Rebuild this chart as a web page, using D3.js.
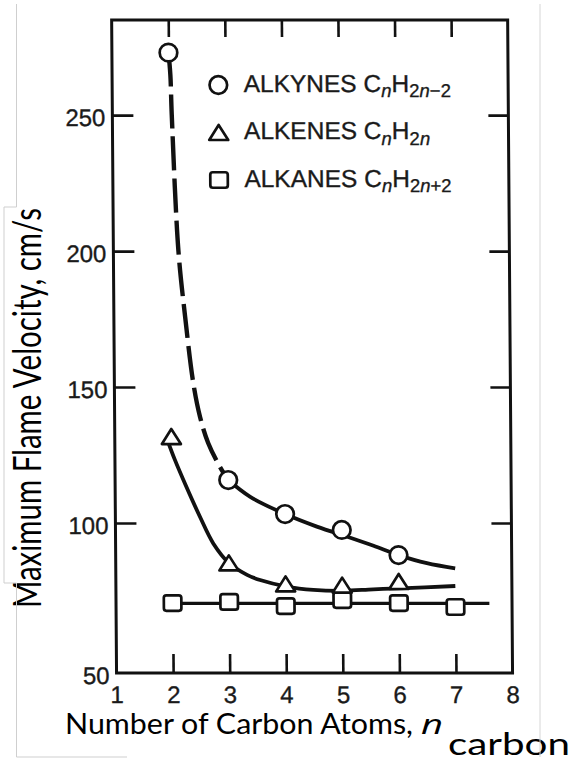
<!DOCTYPE html>
<html>
<head>
<meta charset="utf-8">
<script src="https://cdn.jsdelivr.net/npm/d3@7"></script>
<style>
  body { margin: 0; background: #fff; }
  svg { display: block; }
</style>
</head>
<body>
<svg id="chart" width="575" height="760"></svg>
<script>
// ---- data ----
const xTickMarks = [2, 3, 4, 5, 6, 7];
const xTickLabels = [1, 2, 3, 4, 5, 6, 7, 8];
const yTickMarks = [100, 150, 200, 250];
const yTickLabels = [50, 100, 150, 200, 250];

// measured maximum flame velocities (cm/s) against carbon number
const alkyneN = [2, 3, 4, 5, 6];
const alkyneV = [273.0, 115.8, 103.3, 97.7, 89.3];
const alkeneN = [2, 3, 4, 5, 6];
const alkeneV = [131.8, 86.7, 79.7, 79.3, 80.5];
const alkaneN = [2, 3, 4, 5, 6, 7];
const alkaneV = [73.3, 73.7, 72.3, 74.3, 73.3, 72.0];

// hand-drawn trend curves [n, velocity]
const alkyneTrendDashed = [[2, 273.0], [2.03, 265], [2.05, 250], [2.15, 200], [2.26, 175.8],
  [2.395, 151.5], [2.51, 139], [2.65, 129.4], [2.856, 120.6], [3, 115.8]];
const alkyneTrendSolid = [[3, 115.8], [3.38, 109.7], [4, 103.3], [4.56, 98.8], [5.15, 95.1],
  [5.56, 92.4], [6, 89.3], [6.5, 86.6], [7, 84.9]];
const alkeneTrend = [[1.93, 130.5], [2.06, 123.2], [2.253, 113.6], [2.495, 102.3], [2.727, 93.2],
  [3, 86.7], [3.32, 82.7], [3.55, 81], [4.02, 78.8], [4.49, 77.7], [5.02, 77.4], [5.55, 77.9],
  [6.02, 78.2], [7, 79]];
const alkaneTrend = [[2, 73.2], [7.6, 73.2]];

const legendNames = ["ALKYNES", "ALKENES", "ALKANES"];
const legendSubs = ["\u22122", "", "+2"];
const legendShapes = ["circle", "triangle", "square"];

// ---- layout ----
const svg = d3.select("#chart");
const plotTop = 20, plotBottom = 673;
const x = d3.scaleLinear().domain([1, 8]).range([111.5, 507.5]);
// lower decade of the printed axis is drawn slightly taller
const y = d3.scaleLinear().domain([50, 100, 285]).range([plotBottom, 523, plotTop]);

const font = "'Liberation Sans', Arial, Helvetica, sans-serif";
const ink = "#111";

// the printed figure is very slightly sheared
const plot = svg.append("g").attr("transform", "skewX(0.43)");

// frame
plot.append("rect")
  .attr("x", x(1)).attr("y", plotTop)
  .attr("width", x(8) - x(1)).attr("height", plotBottom - plotTop)
  .attr("fill", "none").attr("stroke", ink).attr("stroke-width", 3);

function styleTicks(g) {
  g.select(".domain").remove();
  g.selectAll("line").attr("stroke", ink).attr("stroke-width", 2.6);
}

// inward tick marks on all four sides
plot.append("g").attr("transform", `translate(0,${plotBottom})`)
  .call(d3.axisBottom(x).tickValues(xTickMarks).tickSize(-19).tickFormat(""))
  .call(styleTicks);
plot.append("g").attr("transform", `translate(0,${plotTop})`)
  .call(d3.axisTop(x).tickValues(xTickMarks).tickSize(-17).tickFormat(""))
  .call(styleTicks);
plot.append("g").attr("transform", `translate(${x(1)},0)`)
  .call(d3.axisLeft(y).tickValues(yTickMarks).tickSize(-21).tickFormat(""))
  .call(styleTicks);
plot.append("g").attr("transform", `translate(${x(8)},0)`)
  .call(d3.axisRight(y).tickValues(yTickMarks).tickSize(-20).tickFormat(""))
  .call(styleTicks);

// tick labels
function styleLabels(sel) {
  sel.attr("font-family", font).attr("font-size", 24).attr("fill", "#1a1a1a")
    .attr("stroke", "#1a1a1a").attr("stroke-width", 0.35);
}
const xl = plot.append("g").attr("transform", `translate(0,${plotBottom})`)
  .call(d3.axisBottom(x).tickValues(xTickLabels).tickSize(0).tickFormat(d3.format("d")));
xl.select(".domain").remove();
xl.selectAll("text").attr("y", 30).attr("dy", 0).call(styleLabels);

const yl = plot.append("g").attr("transform", `translate(${x(1)},0)`)
  .call(d3.axisLeft(y).tickValues(yTickLabels).tickSize(0).tickFormat(d3.format("d")));
yl.select(".domain").remove();
yl.selectAll("text").attr("x", -7).attr("dy", 10).call(styleLabels);

// trend curves
const line = d3.line().x(d => x(d[0])).y(d => y(d[1])).curve(d3.curveCatmullRom.alpha(0.5));
plot.append("path").datum(alkyneTrendDashed).attr("d", line)
  .attr("fill", "none").attr("stroke", ink).attr("stroke-width", 4.4)
  .attr("stroke-dasharray", "34,8");
plot.append("path").datum(alkyneTrendSolid).attr("d", line)
  .attr("fill", "none").attr("stroke", ink).attr("stroke-width", 3.8);
plot.append("path").datum(alkeneTrend).attr("d", line)
  .attr("fill", "none").attr("stroke", ink).attr("stroke-width", 3.8);
plot.append("path").datum(alkaneTrend).attr("d", line)
  .attr("fill", "none").attr("stroke", ink).attr("stroke-width", 3.2);

// marker shapes
function drawMarker(g, shape, cx, cy) {
  if (shape === "circle") {
    g.append("circle").attr("cx", cx).attr("cy", cy).attr("r", 8.8)
      .attr("fill", "#fff").attr("stroke", ink).attr("stroke-width", 2.7);
  } else if (shape === "triangle") {
    const w = 19, h = 15;
    g.append("path")
      .attr("d", `M${cx},${cy - h / 2}L${cx + w / 2},${cy + h / 2}L${cx - w / 2},${cy + h / 2}Z`)
      .attr("fill", "#fff").attr("stroke", ink).attr("stroke-width", 2.7)
      .attr("stroke-linejoin", "round");
  } else {
    const w = 17.5, h = 15.5;
    g.append("rect").attr("x", cx - w / 2).attr("y", cy - h / 2)
      .attr("width", w).attr("height", h).attr("rx", 2.5)
      .attr("fill", "#fff").attr("stroke", ink).attr("stroke-width", 2.7);
  }
}

const markers = plot.append("g");
alkaneN.forEach((n, i) => drawMarker(markers, "square", x(n), y(alkaneV[i])));
alkeneN.forEach((n, i) => drawMarker(markers, "triangle", x(n), y(alkeneV[i])));
alkyneN.forEach((n, i) => drawMarker(markers, "circle", x(n), y(alkyneV[i])));

// legend
const legend = plot.append("g");
legendNames.forEach((name, i) => {
  const by = 92 + i * 47.5;
  drawMarker(legend, legendShapes[i], 217.7, by - 7);
  const t = legend.append("text").attr("x", 243).attr("y", by)
    .attr("font-family", font).attr("font-size", 24.5).attr("fill", "#1a1a1a")
    .attr("stroke", "#1a1a1a").attr("stroke-width", 0.35);
  t.append("tspan").text(name + " C");
  t.append("tspan").attr("font-size", 18.5).attr("font-style", "italic").attr("dy", 5.5).text("n");
  t.append("tspan").attr("dy", -5.5).text("H");
  const s = t.append("tspan").attr("font-size", 18.5).attr("dy", 5.5);
  s.append("tspan").text("2");
  s.append("tspan").attr("font-style", "italic").text("n");
  if (legendSubs[i]) s.append("tspan").text(legendSubs[i]);
});

// axis titles
const titleFont = "Lato, 'Open Sans', sans-serif";
svg.append("text")
  .attr("x", 65).attr("y", 734)
  .attr("font-family", titleFont).attr("font-size", 28)
  .attr("textLength", 348).attr("lengthAdjust", "spacingAndGlyphs")
  .attr("fill", "#000").text("Number of Carbon Atoms,");
svg.append("text")
  .attr("x", 421).attr("y", 734)
  .attr("font-family", "'Open Sans', sans-serif").attr("font-size", 28)
  .attr("font-style", "italic").attr("font-weight", 400)
  .attr("textLength", 22).attr("lengthAdjust", "spacingAndGlyphs")
  .attr("fill", "#000").text("n");
svg.append("text")
  .attr("x", 448).attr("y", 755)
  .attr("font-family", titleFont).attr("font-size", 30).attr("font-weight", 400)
  .attr("textLength", 122).attr("lengthAdjust", "spacingAndGlyphs")
  .attr("fill", "#000").text("carbon");

svg.append("text")
  .attr("transform", "translate(41,608) rotate(-90)")
  .attr("font-family", titleFont).attr("font-size", 39)
  .attr("textLength", 400).attr("lengthAdjust", "spacingAndGlyphs")
  .attr("fill", "#000").text("Maximum Flame Velocity, cm/s");

// thin outlines of the page and title box
svg.append("path")
  .attr("d", "M16.5,4V207H4V583H16.5V757H127")
  .attr("fill", "none").attr("stroke", "#cfcfcf").attr("stroke-width", 1);
svg.append("path")
  .attr("d", "M540,4V757")
  .attr("fill", "none").attr("stroke", "#d6d6d6").attr("stroke-width", 1);
</script>
</body>
</html>
